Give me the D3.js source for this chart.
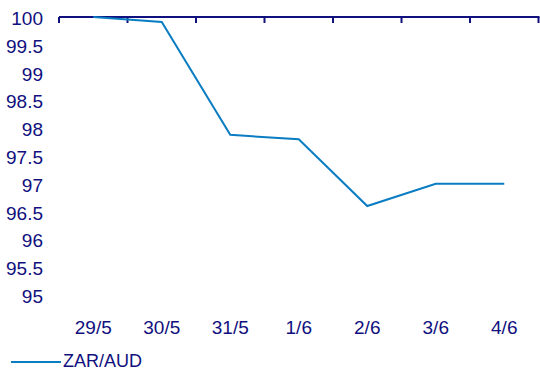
<!DOCTYPE html>
<html>
<head>
<meta charset="utf-8">
<script src="https://cdn.jsdelivr.net/npm/d3@7"></script>
<style>
  html, body { margin: 0; padding: 0; background: #fff; }
  svg { display: block; font-family: "Liberation Sans", Arial, sans-serif; }
</style>
</head>
<body>
<svg id="chart" width="540" height="370"></svg>
<script>
// ZAR/AUD indexed to 100 on 29/5
const dates = ["29/5", "30/5", "31/5", "1/6", "2/6", "3/6", "4/6"];
const zarAud = [100, 99.91, 97.88, 97.8, 96.6, 97.0, 97.0];
const yTicks = [95, 95.5, 96, 96.5, 97, 97.5, 98, 98.5, 99, 99.5, 100];
const seriesName = "ZAR/AUD";

const navy = "#10107e";
const lineColor = "#0a7dc2";
const fontSize = 19;

const svg = d3.select("#chart");
const plot = { left: 59, right: 538.5, top: 17, bottom: 295 };

const x = d3.scaleBand().domain(dates).range([plot.left, plot.right]).padding(0);
const y = d3.scaleLinear().domain([95, 100]).range([plot.bottom, plot.top]);

// y labels (no axis line)
svg.append("g").selectAll("text")
  .data(yTicks).join("text")
  .attr("x", 43)
  .attr("y", d => y(d))
  .attr("dy", "0.42em")
  .attr("text-anchor", "end")
  .attr("font-size", fontSize)
  .attr("fill", navy)
  .text(d => d3.format("")(d));

// category axis crosses at the top (value 100), ticks between categories
const tickXs = dates.map(d => x(d)).concat([x(dates[dates.length - 1]) + x.bandwidth()]);
const axis = svg.append("g");
axis.append("line")
  .attr("x1", plot.left).attr("x2", plot.right + 1)
  .attr("y1", y(100)).attr("y2", y(100))
  .attr("stroke", navy).attr("stroke-width", 2);
axis.selectAll("line.tick")
  .data(tickXs).join("line")
  .attr("class", "tick")
  .attr("x1", d => d).attr("x2", d => d)
  .attr("y1", y(100)).attr("y2", y(100) + 6)
  .attr("stroke", navy).attr("stroke-width", 2);

// category labels below the plot
svg.append("g").selectAll("text")
  .data(dates).join("text")
  .attr("x", d => x(d) + x.bandwidth() / 2)
  .attr("y", 333.5)
  .attr("text-anchor", "middle")
  .attr("font-size", fontSize)
  .attr("fill", navy)
  .text(d => d);

// series line
const line = d3.line()
  .x((d, i) => x(dates[i]) + x.bandwidth() / 2)
  .y(d => y(d));
svg.append("path")
  .datum(zarAud)
  .attr("d", line)
  .attr("fill", "none")
  .attr("stroke", lineColor)
  .attr("stroke-width", 2)
  .attr("stroke-linejoin", "miter");

// legend
const legend = svg.append("g");
legend.append("line")
  .attr("x1", 11).attr("x2", 61)
  .attr("y1", 362).attr("y2", 362)
  .attr("stroke", lineColor).attr("stroke-width", 2);
legend.append("text")
  .attr("x", 63).attr("y", 367)
  .attr("font-size", 18)
  .attr("fill", navy)
  .text(seriesName);
</script>
</body>
</html>
